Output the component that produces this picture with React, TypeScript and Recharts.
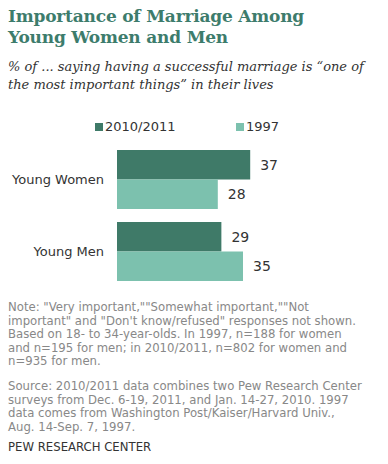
import { BarChart, Bar, XAxis, YAxis, Legend, LabelList } from 'recharts';

const groups = ['Young Women', 'Young Men'];
const recent = [37, 29];
const earlier = [28, 35];
const seriesNames = ['2010/2011', '1997'];

const DARK = '#3f7a68';
const LIGHT = '#7cc1ae';

const data = groups.map((g, i) => ({ group: g, recent: recent[i], earlier: earlier[i] }));

const noteLines = [
    'Note: "Very important,""Somewhat important,""Not',
    'important" and "Don\'t know/refused" responses not shown.',
    'Based on 18- to 34-year-olds. In 1997, n=188 for women',
    'and n=195 for men; in 2010/2011, n=802 for women and',
    'n=935 for men.',
];

const sourceLines = [
    'Source: 2010/2011 data combines two Pew Research Center',
    'surveys from Dec. 6-19, 2011, and Jan. 14-27, 2010. 1997',
    'data comes from Washington Post/Kaiser/Harvard Univ.,',
    'Aug. 14-Sep. 7, 1997.',
];

const sans = '"DejaVu Sans", Verdana, sans-serif';

function LegendRow() {
    const items = [
        { name: seriesNames[0], color: DARK, left: 95 },
        { name: seriesNames[1], color: LIGHT, left: 236 },
    ];
    return (
        <div style={{ position: 'relative', height: 20 }}>
            {items.map((it) => (
                <div
                    key={it.name}
                    style={{
                        position: 'absolute',
                        left: it.left,
                        top: 0,
                        display: 'flex',
                        alignItems: 'center',
                        fontFamily: sans,
                        fontSize: 13,
                        color: '#333',
                    }}
                >
                    <span style={{ width: 8, height: 8, background: it.color, marginRight: 2 }} />
                    {it.name}
                </div>
            ))}
        </div>
    );
}

export default function App() {
    return (
        <div
            style={{
                position: 'absolute',
                left: 0,
                top: 0,
                width: 388,
                height: 464,
                background: '#fff',
                overflow: 'hidden',
            }}
        >
            <div
                style={{
                    position: 'absolute',
                    left: 8,
                    top: 6,
                    fontFamily: '"DejaVu Serif", serif',
                    fontWeight: 'bold',
                    fontSize: 17,
                    letterSpacing: -0.2,
                    lineHeight: '21px',
                    color: '#3d7c6c',
                }}
            >
                Importance of Marriage Among
                <br />
                Young Women and Men
            </div>
            <div
                style={{
                    position: 'absolute',
                    left: 8,
                    top: 58,
                    fontFamily: '"DejaVu Serif", serif',
                    fontStyle: 'italic',
                    fontSize: 13,
                    lineHeight: '18px',
                    color: '#333',
                    whiteSpace: 'nowrap',
                }}
            >
                % of ... saying having a successful marriage is “one of
                <br />
                the most important things” in their lives
            </div>

            <div style={{ position: 'absolute', left: 0, top: 110 }}>
                <BarChart
                    width={388}
                    height={185}
                    data={data}
                    layout="vertical"
                    margin={{ top: 13, right: 91, bottom: 8, left: 0 }}
                    barGap={0}
                    barSize={29.5}
                >
                    <XAxis type="number" domain={[0, 50]} hide />
                    <YAxis
                        type="category"
                        dataKey="group"
                        width={117}
                        axisLine={false}
                        tickLine={false}
                        tickMargin={7}
                        tick={{ fontFamily: sans, fontSize: 13, fill: '#333' }}
                    />
                    <Legend
                        verticalAlign="top"
                        wrapperStyle={{ top: 9, left: 0, width: 388 }}
                        content={() => <LegendRow />}
                    />
                    <Bar dataKey="recent" name={seriesNames[0]} fill={DARK} isAnimationActive={false}>
                        <LabelList
                            dataKey="recent"
                            position="right"
                            offset={10}
                            style={{ fontFamily: sans, fontSize: 14, fill: '#333' }}
                        />
                    </Bar>
                    <Bar dataKey="earlier" name={seriesNames[1]} fill={LIGHT} isAnimationActive={false}>
                        <LabelList
                            dataKey="earlier"
                            position="right"
                            offset={10}
                            style={{ fontFamily: sans, fontSize: 14, fill: '#333' }}
                        />
                    </Bar>
                </BarChart>
            </div>

            <div
                style={{
                    position: 'absolute',
                    left: 8,
                    top: 301,
                    fontFamily: sans,
                    fontSize: 11.7,
                    lineHeight: '13.6px',
                    color: '#888',
                    whiteSpace: 'nowrap',
                }}
            >
                {noteLines.map((l) => (
                    <div key={l}>{l}</div>
                ))}
                <div style={{ height: 11 }} />
                {sourceLines.map((l) => (
                    <div key={l}>{l}</div>
                ))}
                <div style={{ height: 7 }} />
                <div style={{ color: '#333' }}>PEW RESEARCH CENTER</div>
            </div>
        </div>
    );
}
